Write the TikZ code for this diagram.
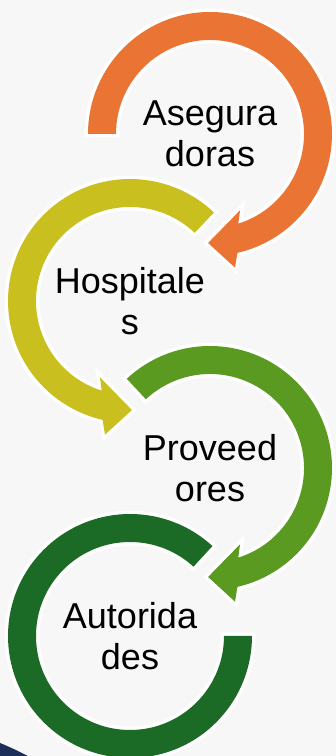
\documentclass[tikz,border=0pt]{standalone}
\usepackage{fontspec}
\setmainfont{Liberation Sans}
\definecolor{bgc}{HTML}{F7F7F7}
\definecolor{c1}{HTML}{EA7434}
\definecolor{c2}{HTML}{C9C020}
\definecolor{c3}{HTML}{5A9A21}
\definecolor{c4}{HTML}{1B6B27}
\definecolor{navy}{HTML}{1C2E5A}
\tikzset{
  ring/.style={fill=#1, preaction={draw=white, line width=7pt, line join=miter}},
  lbl/.style={align=center, font=\fontsize{36}{40.5}\selectfont, text=black, inner sep=0pt}
}
\newcommand{\arrowring}[2]{% #1 colour, #2 start angle
  \path[ring=#1] (#2:122) arc[start angle=#2, end angle=-77, radius=122]
    -- (-79.4:136) -- (-91:109) -- (-68.5:82) -- (-72.5:94)
    arc[start angle=-72.5, end angle=#2, radius=94] -- cycle;}
\begin{document}
\begin{tikzpicture}[x=1pt,y=1pt]
\fill[bgc] (0,0) rectangle (336,756);
\useasboundingbox (0,0) rectangle (336,756);
% circle 1
\begin{scope}[shift={(210,622)}]
  \arrowring{c1}{180}
\end{scope}
% circle 2 (mirrored)
\begin{scope}[shift={(130,455)}, xscale=-1]
  \arrowring{c2}{133.5}
\end{scope}
% circle 3
\begin{scope}[shift={(210,288)}]
  \arrowring{c3}{133}
\end{scope}
% circle 4 (mirrored, no head)
\begin{scope}[shift={(130,120)}, xscale=-1]
  \path[ring=c4] (132.5:122) arc[start angle=132.5, end angle=-180, radius=122]
    -- (-180:94) arc[start angle=-180, end angle=132.5, radius=94] -- cycle;
\end{scope}
% corner fragment
\fill[navy] (0,13) .. controls (10,9) and (20,4) .. (28,0) -- (0,0) -- cycle;
% labels
\node[lbl] (asegura) at (210,622) {Asegura\\doras};
\node[lbl] (hospitales) at (130,455) {Hospitale\\s};
\node[lbl] (proveedores) at (210,288) {Proveed\\ores};
\node[lbl] (autoridades) at (130,120) {Autorida\\des};
\end{tikzpicture}
\end{document}
